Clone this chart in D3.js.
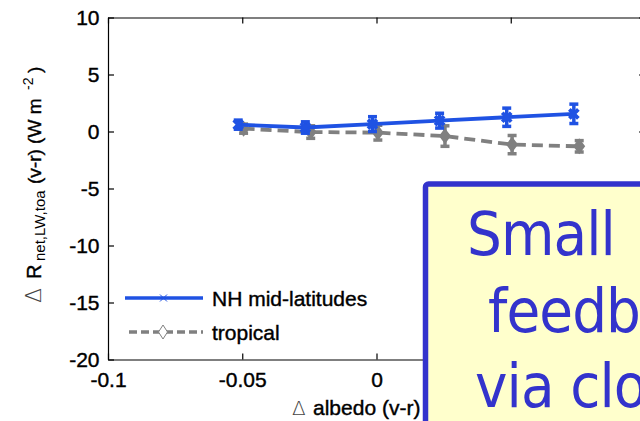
<!DOCTYPE html>
<html>
<head>
<meta charset="utf-8">
<script src="https://cdn.jsdelivr.net/npm/d3@7"></script>
<style>
  html, body { margin: 0; padding: 0; background: #ffffff; overflow: hidden; }
  svg { display: block; }
</style>
</head>
<body>
<svg id="chart" width="640" height="421" font-family="'Liberation Sans', Arial, sans-serif"></svg>
<script>
// ---- data ----
const seriesNames = ["NH mid-latitudes", "tropical"];
const xNH   = [-0.0515, -0.0265, -0.0015, 0.0235, 0.0485, 0.0735];
const yNH   = [0.6, 0.35, 0.65, 0.95, 1.25, 1.55];
const eNH   = [0.4, 0.5, 0.65, 0.65, 0.8, 0.85];
const xTrop = [-0.0495, -0.0245, 0.0005, 0.0255, 0.0505, 0.0755];
const yTrop = [0.25, -0.05, -0.1, -0.4, -1.15, -1.3];
const eTrop = [0.4, 0.55, 0.65, 0.9, 0.8, 0.5];
const xTicks = [-0.1, -0.05, 0, 0.05, 0.1];
const xTickLabels = ["-0.1", "-0.05", "0", "0.05", "0.1"];
const yTicks = [-20, -15, -10, -5, 0, 5, 10];
const yTickLabels = ["-20", "-15", "-10", "-5", "0", "5", "10"];
const noteLines = ["Small", "feedback", "via clouds"];

// ---- layout ----
const L = 108, R = 645, T = 17.5, B = 359.5;
const svg = d3.select("#chart");
const x = d3.scaleLinear().domain([-0.1, 0.1]).range([L, R]);
const y = d3.scaleLinear().domain([-20, 10]).range([B, T]);

const blue = "#1f52e3", gray = "#808080";
const fontSize = 21;
const sansFont = "'Liberation Sans', Arial, sans-serif";

// axes (box with inward ticks on all sides)
const gx = svg.append("g").attr("transform", `translate(0,${B})`)
  .call(d3.axisBottom(x).tickValues(xTicks).tickFormat((d, i) => xTickLabels[i])
    .tickSizeInner(-6).tickSizeOuter(0).tickPadding(12.3));
const gxt = svg.append("g").attr("transform", `translate(0,${T})`)
  .call(d3.axisTop(x).tickValues(xTicks).tickFormat("").tickSizeInner(-6).tickSizeOuter(0));
const gy = svg.append("g").attr("transform", `translate(${L},0)`)
  .call(d3.axisLeft(y).tickValues(yTicks).tickFormat((d, i) => yTickLabels[i])
    .tickSizeInner(-6).tickSizeOuter(0).tickPadding(8.5));
const gyr = svg.append("g").attr("transform", `translate(${R},0)`)
  .call(d3.axisRight(y).tickValues(yTicks).tickFormat("").tickSizeInner(-6).tickSizeOuter(0));
[gx, gxt, gy, gyr].forEach(g => {
  g.attr("font-family", sansFont);
  g.selectAll("path.domain").attr("stroke", "#000").attr("stroke-width", 1.2);
  g.selectAll("line").attr("stroke", "#000").attr("stroke-width", 1.2);
  g.selectAll("text").attr("fill", "#000").attr("font-size", fontSize)
    .attr("stroke", "#000").attr("stroke-width", 0.4);
});

// series
function drawSeries(xs, ys, es, color, dash, marker) {
  const pts = xs.map((d, i) => ({ x: d, y: ys[i], e: es[i] }));
  const g = svg.append("g");
  g.append("path").datum(pts)
    .attr("d", d3.line().x(d => x(d.x)).y(d => y(d.y)))
    .attr("fill", "none").attr("stroke", color).attr("stroke-width", 3.8)
    .attr("stroke-dasharray", dash);
  const eb = g.selectAll("g.eb").data(pts).enter().append("g");
  eb.append("line").attr("x1", d => x(d.x)).attr("x2", d => x(d.x))
    .attr("y1", d => y(d.y - d.e)).attr("y2", d => y(d.y + d.e))
    .attr("stroke", color).attr("stroke-width", 3.5);
  [-1, 1].forEach(s => {
    eb.append("line").attr("x1", d => x(d.x) - 4.5).attr("x2", d => x(d.x) + 4.5)
      .attr("y1", d => y(d.y + s * d.e)).attr("y2", d => y(d.y + s * d.e))
      .attr("stroke", color).attr("stroke-width", 3.5);
  });
  if (marker === "x") {
    eb.append("path").attr("d", d => {
      const cx = x(d.x), cy = y(d.y), r = 4.5;
      return `M${cx - r},${cy - r}L${cx + r},${cy + r}M${cx - r},${cy + r}L${cx + r},${cy - r}`;
    }).attr("stroke", color).attr("stroke-width", 3.8);
  } else {
    eb.append("path").attr("d", d => {
      const cx = x(d.x), cy = y(d.y), r = 5.5;
      return `M${cx},${cy - r}L${cx + r * 0.75},${cy}L${cx},${cy + r}L${cx - r * 0.75},${cy}Z`;
    }).attr("fill", color).attr("stroke", color).attr("stroke-width", 3);
  }
}
drawSeries(xTrop, yTrop, eTrop, gray, "11,6", "d");
drawSeries(xNH, yNH, eNH, blue, null, "x");

// legend
const leg = svg.append("g").attr("font-family", sansFont);
const legRows = [
  { name: seriesNames[0], color: blue, dash: null, y: 298, x1: 125 },
  { name: seriesNames[1], color: gray, dash: "8,4", y: 332, x1: 129 }
];
legRows.forEach((r, i) => {
  leg.append("line").attr("x1", r.x1).attr("x2", 203).attr("y1", r.y).attr("y2", r.y)
    .attr("stroke", r.color).attr("stroke-width", 3.5).attr("stroke-dasharray", r.dash);
  if (i === 0) {
    leg.append("path").attr("d", `M160,${r.y - 3.5}L167,${r.y + 3.5}M160,${r.y + 3.5}L167,${r.y - 3.5}`)
      .attr("stroke", r.color).attr("stroke-width", 1);
  } else {
    leg.append("path").attr("d", `M163,${r.y - 7}L167.5,${r.y}L163,${r.y + 7}L158.5,${r.y}Z`)
      .attr("fill", "#fff").attr("stroke", r.color).attr("stroke-width", 1);
  }
  leg.append("text").attr("x", 212).attr("y", r.y + 7.5).attr("font-size", fontSize)
    .attr("fill", "#000").attr("stroke", "#000").attr("stroke-width", 0.4).text(r.name);
});

// y label (rotated; positions along the rotated baseline)
const yl = svg.append("text").attr("transform", "translate(41,303) rotate(-90)")
  .attr("font-family", sansFont).attr("font-size", 19).attr("fill", "#000");
yl.append("tspan").attr("x", 0).attr("font-size", 22).attr("font-family", "'DejaVu Sans', sans-serif")
  .attr("font-weight", 200).attr("fill", "#444").text("\u0394");
yl.append("tspan").attr("x", 24).attr("font-size", 20).attr("stroke", "#000").attr("stroke-width", 0.4).text("R");
yl.append("tspan").attr("x", 42).attr("font-size", 15).attr("dy", 4).text("net,LW,toa");
yl.append("tspan").attr("x", 119).attr("dy", -4).attr("stroke", "#000").attr("stroke-width", 0.4).text("(v-r) (W m");
yl.append("tspan").attr("x", 213).attr("font-size", 14).attr("dy", -8).text("-2");
yl.append("tspan").attr("x", 230).attr("dy", 8).attr("stroke", "#000").attr("stroke-width", 0.4).text(")");

// x label
const xl = svg.append("text").attr("y", 415).attr("font-family", sansFont)
  .attr("font-size", fontSize).attr("fill", "#000");
xl.append("tspan").attr("x", 292).attr("font-size", 20).attr("font-family", "'DejaVu Sans', sans-serif")
  .attr("font-weight", 200).attr("fill", "#444").text("\u0394");
xl.append("tspan").attr("x", 313).attr("stroke", "#000").attr("stroke-width", 0.4).text("albedo (v-r)");

// note box
svg.append("rect").attr("x", 425.5).attr("y", 184).attr("width", 400).attr("height", 400)
  .attr("rx", 3).attr("fill", "#ffffcc").attr("stroke", "#3333cc").attr("stroke-width", 5.5);
const noteX = [467, 488, 475], noteY = [255, 331.5, 407];
noteLines.forEach((t, i) => {
  svg.append("text").attr("x", noteX[i]).attr("y", noteY[i])
    .style("font-family", "'DejaVu Sans Condensed', 'DejaVu Sans', sans-serif")
    .style("font-stretch", "condensed")
    .attr("font-size", 61).attr("letter-spacing", -0.9).attr("fill", "#3333cc").text(t);
});
</script>
</body>
</html>
